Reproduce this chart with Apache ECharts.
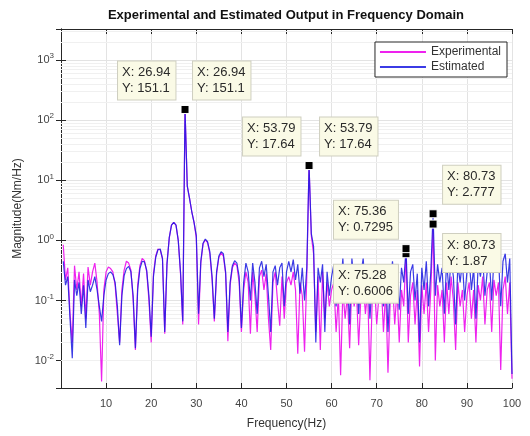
<!DOCTYPE html>
<html>
<head>
<meta charset="utf-8">
<title>Experimental and Estimated Output in Frequency Domain</title>
<script src="https://cdn.jsdelivr.net/npm/echarts@6/dist/echarts.min.js"></script>
<style>
html, body { margin: 0; padding: 0; background: #fff; }
#chart { width: 530px; height: 436px; }
</style>
</head>
<body>
<div id="chart"></div>
<script>
// frequency grid (Hz), 0.5 Hz step
const freq = []
for (let i = 1; i <= 200; i++) {
  freq.push(i * 0.5)
}

// magnitudes, one row = 5 Hz
const experimental = [
  0.85, 0.22, 0.35, 0.06, 0.02, 0.38, 0.15, 0.30, 0.08, 0.28,
  0.05, 0.36, 0.18, 0.30, 0.42, 0.20, 0.06, 0.0045, 0.15, 0.30,
  0.36, 0.34, 0.30, 0.18, 0.06, 0.02, 0.15, 0.32, 0.45, 0.42,
  0.32, 0.10, 0.015, 0.18, 0.38, 0.50, 0.46, 0.30, 0.10, 0.02,
  0.28, 0.55, 0.72, 0.70, 0.50, 0.028, 0.42, 1.1, 1.8, 2.0,
  1.8, 1.0, 0.28, 0.04, 151.1, 8.0, 5.0, 3.0, 2.0, 1.1,
  0.04, 0.42, 0.88, 1.02, 0.92, 0.60, 0.22, 0.045, 0.28, 0.52,
  0.62, 0.55, 0.28, 0.021, 0.18, 0.35, 0.42, 0.38, 0.20, 0.03,
  0.15, 0.30, 0.20, 0.028, 0.30, 0.12, 0.03, 0.25, 0.32, 0.15,
  0.28, 0.05, 0.015, 0.20, 0.30, 0.10, 0.038, 0.25, 0.05, 0.20,
  0.25, 0.18, 0.30, 0.15, 0.013, 0.20, 0.12, 0.014, 0.25, 17.64,
  1.2, 0.60, 0.03, 0.25, 0.015, 0.30, 0.05, 0.20, 0.08, 0.15,
  0.20, 0.03, 0.12, 0.0057, 0.15, 0.05, 0.12, 0.016, 0.20, 0.08,
  0.15, 0.018, 0.12, 0.20, 0.06, 0.15, 0.0047, 0.10, 0.18, 0.04,
  0.12, 0.20, 0.03, 0.15, 0.0063, 0.10, 0.20, 0.04, 0.15, 0.02,
  0.15, 0.08, 0.6006, 0.02, 0.12, 0.20, 0.04, 0.15, 0.008, 0.18,
  0.06, 0.20, 0.03, 0.15, 1.87, 0.01, 0.18, 0.08, 0.15, 0.02,
  0.20, 0.06, 0.25, 0.10, 0.015, 0.20, 0.08, 0.15, 0.03, 0.12,
  0.20, 0.05, 0.15, 0.02, 0.18, 0.10, 0.25, 0.04, 0.15, 0.20,
  0.03, 0.22, 0.12, 0.20, 0.007, 0.15, 0.25, 0.06, 0.20, 0.005
]

const estimated = [
  0.45, 0.18, 0.25, 0.05, 0.011, 0.22, 0.12, 0.20, 0.06, 0.18,
  0.035, 0.22, 0.14, 0.18, 0.25, 0.15, 0.08, 0.045, 0.12, 0.22,
  0.28, 0.30, 0.27, 0.20, 0.08, 0.018, 0.12, 0.26, 0.34, 0.37,
  0.30, 0.12, 0.016, 0.15, 0.34, 0.45, 0.44, 0.32, 0.12, 0.025,
  0.25, 0.52, 0.70, 0.72, 0.50, 0.03, 0.40, 1.1, 1.8, 2.0,
  1.8, 1.0, 0.30, 0.045, 151.1, 8.0, 5.0, 3.0, 2.0, 1.2,
  0.06, 0.45, 0.90, 1.05, 0.95, 0.65, 0.25, 0.05, 0.30, 0.55,
  0.65, 0.60, 0.30, 0.03, 0.20, 0.38, 0.46, 0.42, 0.25, 0.035,
  0.20, 0.42, 0.30, 0.10, 0.42, 0.20, 0.06, 0.35, 0.45, 0.25,
  0.40, 0.12, 0.03, 0.30, 0.38, 0.18, 0.35, 0.42, 0.08, 0.30,
  0.45, 0.30, 0.48, 0.22, 0.40, 0.13, 0.35, 0.10, 0.35, 17.64,
  1.3, 0.80, 0.02, 0.35, 0.20, 0.40, 0.03, 0.30, 0.12, 0.25,
  0.40, 0.08, 0.30, 0.18, 0.50, 0.10, 0.25, 0.04, 0.50, 0.20,
  0.30, 0.06, 0.28, 0.50, 0.15, 0.30, 0.05, 0.22, 0.35, 0.10,
  0.25, 0.40, 0.08, 0.30, 0.03, 0.20, 0.45, 0.15, 0.30, 0.07,
  0.35, 0.20, 0.7295, 0.06, 0.30, 0.40, 0.10, 0.28, 0.02, 0.35,
  0.15, 0.45, 0.08, 0.30, 2.777, 0.12, 0.40, 0.20, 0.35, 0.06,
  0.45, 0.15, 0.50, 0.25, 0.04, 0.40, 0.20, 0.45, 0.10, 0.30,
  0.50, 0.15, 0.35, 0.05, 0.40, 0.25, 0.50, 0.12, 0.30, 0.45,
  0.10, 0.50, 0.30, 0.55, 0.08, 0.45, 0.60, 0.20, 0.50, 0.006
]

// data tips: index into freq + the text shown in the tip
const expTips = [
  { i: 54, x: '26.94', y: '151.1' },
  { i: 109, x: '53.79', y: '17.64' },
  { i: 152, x: '75.28', y: '0.6006' },
  { i: 164, x: '80.73', y: '1.87' }
]
const estTips = [
  { i: 54, x: '26.94', y: '151.1' },
  { i: 109, x: '53.79', y: '17.64' },
  { i: 152, x: '75.36', y: '0.7295' },
  { i: 164, x: '80.73', y: '2.777' }
]

const yTickValues = [0.01, 0.1, 1, 10, 100, 1000]
const yTickExp = ['-2', '-1', '0', '1', '2', '3']
const yMinorGrid = [
  0.004, 0.005, 0.006, 0.007, 0.008, 0.009,
  0.02, 0.03, 0.04, 0.05, 0.06, 0.07, 0.08, 0.09,
  0.2, 0.3, 0.4, 0.5, 0.6, 0.7, 0.8, 0.9,
  2, 3, 4, 5, 6, 7, 8, 9,
  20, 30, 40, 50, 60, 70, 80, 90,
  200, 300, 400, 500, 600, 700, 800, 900,
  2000, 3000
]

const AXIS_COLOR = '#262626'
const FONT = '"Liberation Sans", Arial, sans-serif'

function tipPoints (tips, values, offsets) {
  return tips.map((t, k) => ({
    coord: [freq[t.i], values[t.i]],
    label: {
      formatter: 'X: ' + t.x + '\nY: ' + t.y,
      offset: offsets[k]
    }
  }))
}

const tipStyle = {
  symbol: 'rect',
  symbolSize: 8,
  silent: true,
  animation: false,
  itemStyle: { color: '#000', borderColor: '#fff', borderWidth: 1 },
  label: {
    show: true,
    position: 'inside',
    align: 'left',
    verticalAlign: 'middle',
    fontFamily: FONT,
    fontSize: 13,
    lineHeight: 16,
    color: '#2a2a2a',
    backgroundColor: '#FAFAE6',
    borderColor: '#CFCFC0',
    borderWidth: 1,
    padding: [3, 5, 3, 4]
  }
}

const chart = echarts.init(document.getElementById('chart'))

chart.setOption({
  animation: false,
  textStyle: { fontFamily: FONT },
  title: {
    text: 'Experimental and Estimated Output in Frequency Domain',
    left: 286,
    top: 9,
    padding: 0,
    textAlign: 'center',
    textStyle: { fontSize: 13, fontWeight: 'bold', color: '#111' }
  },
  legend: {
    data: ['Experimental', 'Estimated'],
    orient: 'vertical',
    right: 23,
    top: 42,
    itemWidth: 46,
    itemHeight: 12,
    itemGap: 3,
    padding: [4, 6, 4, 4],
    borderColor: AXIS_COLOR,
    borderWidth: 1,
    backgroundColor: '#fff',
    itemStyle: { opacity: 0 },
    textStyle: { fontSize: 12, color: '#333' }
  },
  grid: {
    left: 61,
    right: 18,
    top: 29,
    bottom: 48
  },
  xAxis: [{
    type: 'value',
    min: 0,
    max: 100,
    interval: 10,
    name: 'Frequency(Hz)',
    nameLocation: 'middle',
    nameGap: 30,
    nameTextStyle: { fontSize: 12, color: '#333' },
    axisLine: { lineStyle: { color: AXIS_COLOR } },
    axisTick: { inside: true, length: 5, lineStyle: { color: AXIS_COLOR } },
    axisLabel: {
      margin: 10,
      fontSize: 11,
      color: '#444',
      formatter: v => (v === 0 ? '' : String(v))
    },
    splitLine: { show: true, lineStyle: { color: '#E3E3E3' } }
  }, {
    type: 'value',
    position: 'top',
    min: 0,
    max: 100,
    interval: 10,
    axisLine: { lineStyle: { color: AXIS_COLOR } },
    axisTick: { inside: true, length: 5, lineStyle: { color: AXIS_COLOR } },
    axisLabel: { show: false },
    splitLine: { show: false }
  }],
  yAxis: [{
    type: 'log',
    logBase: 10,
    min: 0.0035,
    max: 3300,
    name: 'Magnitude(Nm/Hz)',
    nameLocation: 'middle',
    nameGap: 36,
    nameTextStyle: { fontSize: 12, color: '#333' },
    axisLine: { show: true, lineStyle: { color: AXIS_COLOR } },
    axisTick: { inside: true, length: 5, lineStyle: { color: AXIS_COLOR } },
    axisLabel: {
      margin: 7,
      showMinLabel: false,
      showMaxLabel: false,
      formatter: function (v) {
        const k = yTickValues.findIndex(t => Math.abs(t - v) / t < 1e-6)
        return k < 0 ? '' : '{b|10}{s|' + yTickExp[k] + '}'
      },
      rich: {
        b: { fontSize: 11, color: '#444' },
        s: { fontSize: 8, color: '#444', padding: [0, 0, 8, 0] }
      }
    },
    splitLine: { show: true, lineStyle: { color: '#E3E3E3' } }
  }, {
    type: 'log',
    logBase: 10,
    min: 0.0035,
    max: 3300,
    position: 'right',
    axisLine: { show: true, lineStyle: { color: AXIS_COLOR } },
    axisTick: { inside: true, length: 5, lineStyle: { color: AXIS_COLOR } },
    axisLabel: { show: false },
    splitLine: { show: false }
  }],
  series: [{
    name: 'Experimental',
    type: 'line',
    symbol: 'none',
    color: '#EE22EE',
    lineStyle: { width: 1.2, color: '#EE22EE' },
    data: freq.map((f, i) => [f, experimental[i]]),
    z: 2,
    markLine: {
      z: 1,
      silent: true,
      animation: false,
      symbol: ['none', 'none'],
      label: { show: false },
      lineStyle: { color: '#F0F0F0', width: 1, type: 'solid' },
      data: yMinorGrid.map(v => ({ yAxis: v }))
    },
    markPoint: Object.assign({}, tipStyle, {
      data: tipPoints(expTips, experimental, [[-67, -29], [-66, -29], [-72, 30], [10, 29]])
    })
  }, {
    name: 'Estimated',
    type: 'line',
    symbol: 'none',
    color: 'rgba(25,25,225,0.85)',
    lineStyle: { width: 1.2, color: 'rgba(25,25,225,0.85)' },
    data: freq.map((f, i) => [f, estimated[i]]),
    z: 3,
    markPoint: Object.assign({}, tipStyle, {
      data: tipPoints(estTips, estimated, [[8, -29], [11, -29], [-72, -29], [10, -29]])
    })
  }]
})
</script>
</body>
</html>
